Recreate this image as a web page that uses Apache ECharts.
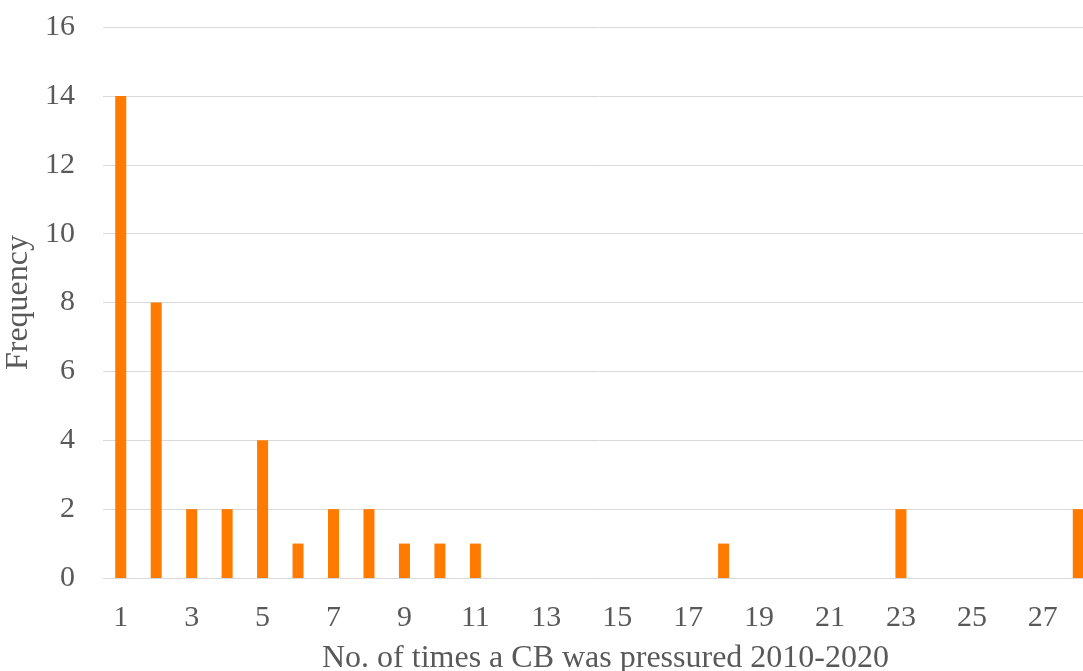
<!DOCTYPE html>
<html>
<head>
<meta charset="utf-8">
<script src="https://cdn.jsdelivr.net/npm/echarts@6/dist/echarts.min.js"></script>
<style>
  html, body { margin: 0; padding: 0; background: #fff; overflow: hidden; width: 1083px; height: 671px; }
  #chart { width: 1096px; height: 671px; }
</style>
</head>
<body>
<div id="chart"></div>
<script>
// Number of times a central bank was pressured (1..28) and how often each count occurs
const timesPressured = [1, 2, 3, 4, 5, 6, 7, 8, 9, 10, 11, 12, 13, 14, 15, 16, 17, 18, 19, 20, 21, 22, 23, 24, 25, 26, 27, 28];
const frequency = [14, 8, 2, 2, 4, 1, 2, 2, 1, 1, 1, 0, 0, 0, 0, 0, 0, 1, 0, 0, 0, 0, 2, 0, 0, 0, 0, 2];
const yTicks = [0, 2, 4, 6, 8, 10, 12, 14, 16];

const textColor = '#595959';
const font = 'Liberation Serif';

const chart = echarts.init(document.getElementById('chart'), null, { renderer: 'canvas' });
chart.setOption({
  animation: false,
  backgroundColor: '#fff',
  grid: { left: 103, right: 0, top: 27, bottom: 93, outerBoundsMode: 'none', containLabel: false },
  xAxis: {
    type: 'category',
    data: timesPressured.map(String),
    name: 'No. of times a CB was pressured 2010-2020',
    nameLocation: 'middle',
    nameGap: 65,
    nameTextStyle: { color: textColor, fontFamily: font, fontSize: 32, padding: [0, 0, 0, 12] },
    axisLine: { show: true, lineStyle: { color: '#d9d9d9', width: 1 } },
    axisTick: { show: false },
    axisLabel: { interval: 1, color: textColor, fontFamily: font, fontSize: 30, margin: 25 },
    splitLine: { show: false }
  },
  yAxis: {
    type: 'value',
    min: yTicks[0],
    max: yTicks[yTicks.length - 1],
    interval: 2,
    name: 'Frequency',
    nameLocation: 'middle',
    nameGap: 59,
    nameRotate: 90,
    nameTextStyle: { color: textColor, fontFamily: font, fontSize: 32 },
    axisLine: { show: false },
    axisTick: { show: false },
    axisLabel: { color: textColor, fontFamily: font, fontSize: 30, margin: 28 },
    splitLine: { lineStyle: { color: '#d9d9d9', width: 1 } }
  },
  series: [{
    type: 'bar',
    data: frequency,
    barWidth: 11,
    itemStyle: { color: '#fe7b00' }
  }]
});
</script>
</body>
</html>
